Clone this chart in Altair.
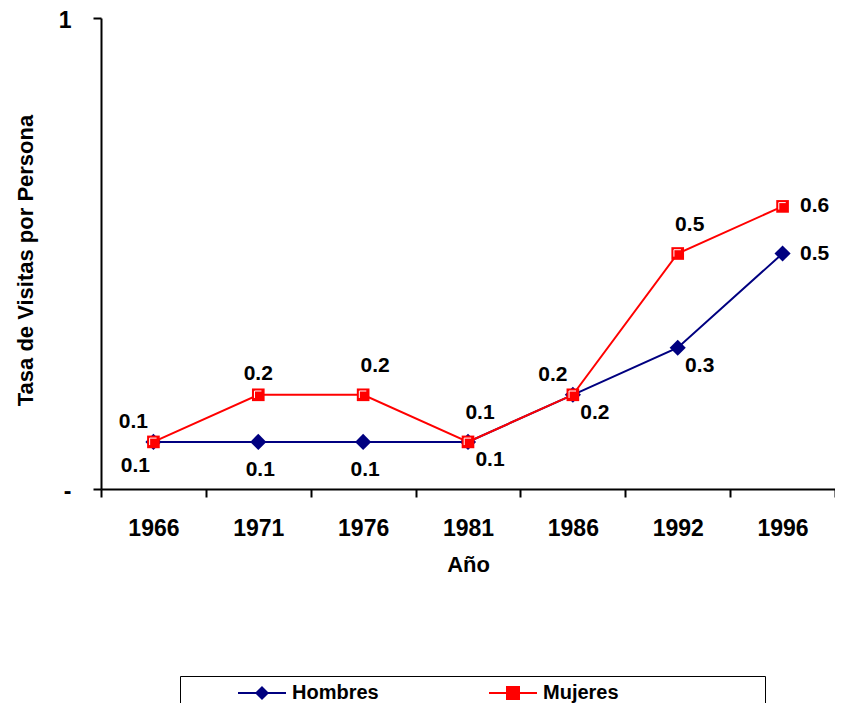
import altair as alt
import pandas as pd

years = ["1966", "1971", "1976", "1981", "1986", "1992", "1996"]
hombres = [0.1, 0.1, 0.1, 0.1, 0.2, 0.3, 0.5]
mujeres = [0.1, 0.2, 0.2, 0.1, 0.2, 0.5, 0.6]
series_names = ["Hombres", "Mujeres"]
series_colors = ["#000080", "#FF0000"]
y_ticks = [0, 1]

df = pd.DataFrame({
    "year": years * 2,
    "series": [series_names[0]] * len(years) + [series_names[1]] * len(years),
    "value": hombres + mujeres,
})

FONT = "Liberation Sans"

x_enc = alt.X(
    "year:O",
    sort=years,
    scale=alt.Scale(type="band", domain=years, paddingInner=0, paddingOuter=0),
    axis=alt.Axis(title="Año", labelAngle=0, tickBand="extent", tickSize=8,
                  labelPadding=20, titlePadding=14, grid=False),
)
y_enc = alt.Y(
    "value:Q",
    scale=alt.Scale(domain=[0, 1], nice=False, zero=True),
    axis=alt.Axis(title="Tasa de Visitas por Persona", values=y_ticks, grid=False, format="d",
                  labelExpr="datum.value == 0 ? '-' : datum.label", labelOffset=2,
                  tickSize=8, labelPadding=22, titleX=-64, titleY=242,
                  titleBaseline="bottom", titleAngle=270, titleAlign="center"),
)

base = alt.Chart(df)


def series_line(name, color):
    return base.transform_filter(alt.datum.series == name).mark_line(
        color=color, strokeWidth=2).encode(x=x_enc, y=y_enc)


def series_points(name, color, shape, size):
    return base.transform_filter(alt.datum.series == name).mark_point(
        shape=shape, filled=True, color=color, size=size, opacity=1).encode(x=x_enc, y=y_enc)


def labels(name, yrs, dx, dy):
    return (base.transform_filter(alt.datum.series == name)
            .transform_filter(alt.FieldOneOfPredicate(field="year", oneOf=yrs))
            .mark_text(dx=dx, dy=dy, font=FONT, fontSize=21, fontWeight="bold", color="black")
            .encode(x=x_enc, y=y_enc, text=alt.Text("value:Q", format=".1f")))


white_mark = (base.transform_filter(alt.datum.series == series_names[1])
              .mark_point(shape="M-0.6,0.5V-0.6H0.5", filled=False, stroke="white",
                          strokeWidth=1, size=160, opacity=1)
              .encode(x=x_enc, y=y_enc))

filler = "\u00a0" * 25 + "\u200b"
legend_spec = alt.Legend(
    title=None, orient="none", legendX=79, legendY=658, direction="horizontal",
    columns=2, padding=7, strokeColor="black", symbolSize=256, symbolStrokeWidth=2,
    symbolOffset=65, labelFont=FONT, labelFontSize=20, labelFontWeight="bold",
    labelColor="black", labelOffset=20, labelLimit=600, columnPadding=59,
    labelExpr="datum.label == 'Mujeres' ? datum.label + '" + filler + "' : datum.label",
)

legend_layer = (base.transform_filter("false")
                .mark_point(filled=True, size=256, opacity=1, strokeWidth=2)
                .encode(
                    x=x_enc, y=y_enc,
                    color=alt.Color("series:N", scale=alt.Scale(domain=series_names, range=series_colors),
                                    legend=legend_spec),
                    stroke=alt.Stroke("series:N", scale=alt.Scale(domain=series_names, range=series_colors),
                                      legend=legend_spec),
                    shape=alt.Shape("series:N", scale=alt.Scale(
                        domain=series_names,
                        range=["M-3,0H3M0,-0.7L0.7,0L0,0.7L-0.7,0Z",
                               "M-3,0H3M-0.75,-0.75H0.75V0.75H-0.75Z"]),
                        legend=legend_spec),
                ))

chart = alt.layer(
    series_line(series_names[0], series_colors[0]),
    series_points(series_names[0], series_colors[0], "diamond", 260),
    series_line(series_names[1], series_colors[1]),
    series_points(series_names[1], series_colors[1], "square", 160),
    white_mark,
    labels(series_names[1], ["1966", "1986"], -20, -20),
    labels(series_names[1], ["1971"], 0, -21),
    labels(series_names[1], ["1976", "1981", "1992"], 12, -29),
    labels(series_names[1], ["1996"], 32, 0),
    labels(series_names[0], ["1966"], -18, 24),
    labels(series_names[0], ["1971", "1976"], 2, 28),
    labels(series_names[0], ["1981", "1986", "1992"], 22, 18),
    labels(series_names[0], ["1996"], 32, 0),
    legend_layer,
).properties(
    width=734, height=471,
    autosize=alt.AutoSizeParams(type="none"),
    padding={"left": 93, "top": 10, "right": 0, "bottom": 214},
).configure_view(stroke=None).configure_axis(
    domainColor="black", domainWidth=2, tickColor="black", tickWidth=2,
    labelFont=FONT, labelFontSize=23, labelFontWeight="bold", labelColor="black",
    titleFont=FONT, titleFontSize=22, titleFontWeight="bold", titleColor="black",
)

chart.save("out.html", embed_options={"renderer": "svg", "actions": False})
